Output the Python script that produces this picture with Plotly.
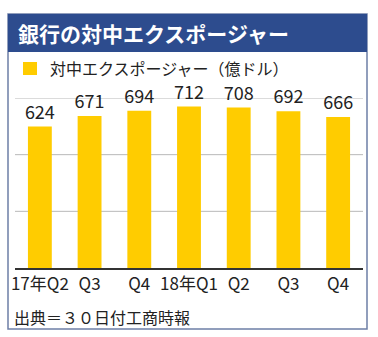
import plotly.graph_objects as go

categories = ["17年Q2", "Q3", "Q4", "18年Q1", "Q2", "Q3 ", "Q4 "]
tick_labels = ["17年Q2", "Q3", "Q4", "18年Q1", "Q2", "Q3", "Q4"]
values = [624, 671, 694, 712, 708, 692, 666]
grid_values = [250, 500, 750]
title_text = "銀行の対中エクスポージャー"
legend_text = "対中エクスポージャー（億ドル）"
source_text = "出典＝３０日付工商時報"

W, H = 378, 337
L, R, T, B = 15, 15, 98, 69
PW, PH = W - L - R, H - T - B


def px(x):
    return (x - L) / PW


def py(y):
    return (H - B - y) / PH


FONT = "Noto Sans CJK JP"
BAR = "#FFCC00"
BLUE = "#2D4C8E"

fig = go.Figure()
fig.add_trace(go.Bar(
    x=categories, y=values, marker_color=BAR, marker_line_width=0,
    text=[str(v) for v in values], textposition="outside", constraintext="none",
    textfont=dict(family=FONT, size=18, color="#222222"),
    cliponaxis=False, showlegend=False,
))

shapes = [
    dict(type="rect", xref="paper", yref="paper", x0=px(8), x1=px(367), y0=py(329), y1=py(14),
         line=dict(color="#6E7FA6", width=1.5), fillcolor="rgba(0,0,0,0)", layer="below"),
    dict(type="rect", xref="paper", yref="paper", x0=px(8), x1=px(367), y0=py(52), y1=py(14),
         line=dict(width=0), fillcolor=BLUE, layer="below"),
    dict(type="rect", xref="paper", yref="paper", x0=px(23), x1=px(37), y0=py(75), y1=py(62),
         line=dict(width=0), fillcolor=BAR),
]
for g in grid_values:
    shapes.append(dict(type="line", xref="paper", yref="y", x0=0, x1=1, y0=g, y1=g,
                       line=dict(color="#B8B8B8", width=1), layer="below"))

annotations = [
    dict(text="<b>" + title_text + "</b>", xref="paper", yref="paper", x=px(16), y=py(33),
         xanchor="left", yanchor="middle", showarrow=False,
         font=dict(family=FONT, size=21, color="white")),
    dict(text=legend_text, xref="paper", yref="paper", x=px(48), y=py(68),
         xanchor="left", yanchor="middle", showarrow=False,
         font=dict(family=FONT, size=16, color="#222222")),
    dict(text=source_text, xref="paper", yref="paper", x=px(12), y=py(317),
         xanchor="left", yanchor="middle", showarrow=False,
         font=dict(family=FONT, size=16, color="#222222")),
]

fig.update_layout(
    width=W, height=H, margin=dict(l=L, r=R, t=T, b=B),
    paper_bgcolor="white", plot_bgcolor="white",
    bargap=0.52, shapes=shapes, annotations=annotations,
    xaxis=dict(tickmode="array", tickvals=categories, ticktext=tick_labels,
               tickfont=dict(family=FONT, size=17, color="#222222"),
               showline=True, linecolor="#333333", linewidth=1.5, ticks="", showgrid=False),
    yaxis=dict(range=[0, 750], showticklabels=False, showgrid=False, zeroline=False),
)

fig.write_html("out.html")
